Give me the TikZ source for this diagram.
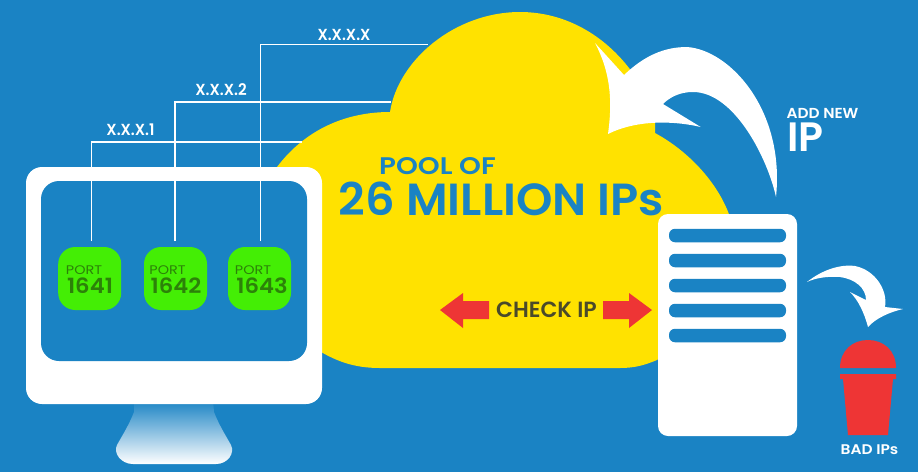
\documentclass[tikz,border=0pt]{standalone}
\usepackage{fontspec}
\usepackage{xcolor}
\usetikzlibrary{positioning}
\setmainfont{Poppins}
\newfontfamily\heavyfont{Poppins SemiBold}
\newcommand{\widened}[2]{\scalebox{#1}[1]{#2}}
\definecolor{skyblue}{HTML}{1A83C4}
\definecolor{poolyellow}{HTML}{FFE200}
\definecolor{portgreen}{HTML}{44EE05}
\definecolor{portdark}{HTML}{2C8209}
\definecolor{alertred}{HTML}{EE3535}
\definecolor{checkdark}{HTML}{4A4A2A}
\tikzstyle{poster}=[x=1pt, y=-1pt, inner sep=0pt, outer sep=0pt]
\tikzstyle{port}=[fill=portgreen, rounded corners=17pt, minimum width=63pt, minimum height=63pt]
\tikzstyle{slot}=[fill=skyblue, rounded corners=6pt, minimum width=117pt, minimum height=13.5pt]
\tikzstyle{ipline}=[draw=white, line width=1.3pt, shorten <=6pt]
\tikzstyle{iplabel}=[text=white, font=\heavyfont\fontsize{16}{16}\selectfont]
\tikzstyle{portword}=[text=portdark, font=\fontsize{12.5}{13}\selectfont]
\tikzstyle{portnum}=[text=portdark, font=\heavyfont\fontsize{21}{21}\selectfont]

\begin{document}
\begin{tikzpicture}[poster]
          \useasboundingbox (0,0) rectangle (918,472);
          \fill[skyblue] (0,0) rectangle (918,472);

          % cloud
          \fill[poolyellow] (620,368) -- (380,368)
            .. controls (355,368) and (335,362) .. (310,345) -- (300,200) -- (277,167)
            .. controls (305,130) and (345,112) .. (390,112)
            .. controls (398,60) and (455,12) .. (520,12)
            .. controls (565,12) and (605,35) .. (632,72) -- (655,100) -- (655,133)
            .. controls (690,152) and (720,185) .. (731,220) -- (740,300) -- (657,360)
            .. controls (645,365) and (635,368) .. (620,368) -- cycle;

          % monitor
          \shade[top color=skyblue, bottom color=white] (134,400) -- (213,400) -- (214,412)
            .. controls (219,425) and (226,436) .. (231,445)
            .. controls (235,453) and (228,464) .. (216,464) -- (133,464)
            .. controls (121,464) and (113,453) .. (117,445)
            .. controls (122,436) and (129,425) .. (134,412) -- cycle;
          \node[fill=white, rounded corners=16pt, minimum width=296pt, minimum height=237pt] (monitor) at (174,285.5) {};
          \node[fill=skyblue, rounded corners=18pt, minimum width=266pt, minimum height=180pt] (screen) at (174,271) {};

          \node[port] (port1) at (89.7,278.5) {};
          \node[port] (port2) at (175.5,278.5) {};
          \node[port] (port3) at (259.5,278.5) {};
          \node[portword] (word1) at (84,270.5) {\widened{1.15}{PORT}};
          \node[portword] (word2) at (167.5,270.5) {\widened{1.15}{PORT}};
          \node[portword] (word3) at (253,270.5) {\widened{1.15}{PORT}};
          \node[portnum] (num1) at (90,285.5) {\widened{1.08}{1641}};
          \node[portnum] (num2) at (176,285.5) {\widened{1.08}{1642}};
          \node[portnum] (num3) at (262,285.5) {\widened{1.08}{1643}};

          % ip lines
          \coordinate (edge1) at (302,142);
          \coordinate (edge2) at (391,102);
          \coordinate (edge3) at (428,44.5);
          \draw[ipline] ([xshift=1.8pt]port1.north) |- (edge1);
          \draw[ipline] ([xshift=-.5pt]port2.north) |- (edge2);
          \draw[ipline] ([xshift=1pt]port3.north) |- (edge3);
          \node[iplabel] (ip1) at (130.5,130) {\widened{.94}{X.X.X.1}};
          \node[iplabel] (ip2) at (221,89.5) {\widened{.94}{X.X.X.2}};
          \node[iplabel] (ip3) at (344,35) {\widened{.94}{X.X.X.X}};

          % pool text
          \node[text=skyblue, font=\heavyfont\fontsize{24}{24}\selectfont] (pool) at (437.5,166.5) {\widened{1.16}{POOL OF}};
          \node[text=skyblue, font=\heavyfont\fontsize{45}{45}\selectfont] (million) at (501.5,199) {\widened{1.03}{26 MILLION IPs}};
          \node[text=checkdark, font=\heavyfont\fontsize{22}{22}\selectfont] (check) at (546.5,310) {CHECK IP};

          % check arrows
          \fill[alertred] (440,310) -- (463,293) -- (463,301) -- (489,301) -- (489,319) -- (463,319) -- (463,328) -- cycle;
          \fill[alertred] (652,310) -- (629,293) -- (629,301) -- (603,301) -- (603,319) -- (629,319) -- (629,328) -- cycle;

          % server
          \node[fill=white, rounded corners=10pt, minimum width=139pt, minimum height=222pt] (server) at (727.5,325) {};
          \node[slot] (slot1) at (727.5,235.5) {};
          \node[slot] (slot2) [below=11.5pt of slot1] {};
          \node[slot] (slot3) [below=11.5pt of slot2] {};
          \node[slot] (slot4) [below=11.5pt of slot3] {};
          \node[slot] (slot5) [below=11.5pt of slot4] {};

          % add arrow
          \fill[white] (595,43) -- (624,75)
            .. controls (645,55) and (665,47) .. (687,47)
            .. controls (730,50) and (785,110) .. (776,197)
            .. controls (768,160) and (735,92) .. (693,92)
            .. controls (680,92) and (670,97) .. (663,104) -- (700.7,127)
            .. controls (680,122) and (640,118) .. (608,134)
            .. controls (612,105) and (612,75) .. cycle;
          \node[text=white, font=\heavyfont\fontsize{14.5}{15}\selectfont] (addnew) at (822.5,113) {\widened{1.06}{ADD NEW}};
          \node[text=white, font=\heavyfont\fontsize{41}{41}\selectfont] (addip) at (805.5,137.5) {IP};

          % bad arrow
          \fill[white] (807,282)
            .. controls (822,270) and (840,264) .. (855,266)
            .. controls (875,270) and (888,290) .. (885,307) -- (903,309)
            .. controls (890,312) and (876,318) .. (868,327)
            .. controls (864,312) and (858,300) .. (850,292) -- (866,300)
            .. controls (866,288) and (855,279) .. (840,277)
            .. controls (828,276) and (815,278) .. cycle;

          % bin
          \fill[alertred] (840,368) .. controls (840,350) and (853,340) .. (868,340)
            .. controls (883,340) and (896,350) .. (896,368) -- cycle;
          \fill[alertred] (840,374) -- (896,374) -- (896,379) -- (893,379) -- (888,435) -- (848,435) -- (843,379) -- (840,379) -- cycle;
          \node[text=white, font=\heavyfont\fontsize{14}{14}\selectfont] (bad) at (869.5,450) {\widened{1.1}{BAD IPs}};
        \end{tikzpicture}
\end{document}
